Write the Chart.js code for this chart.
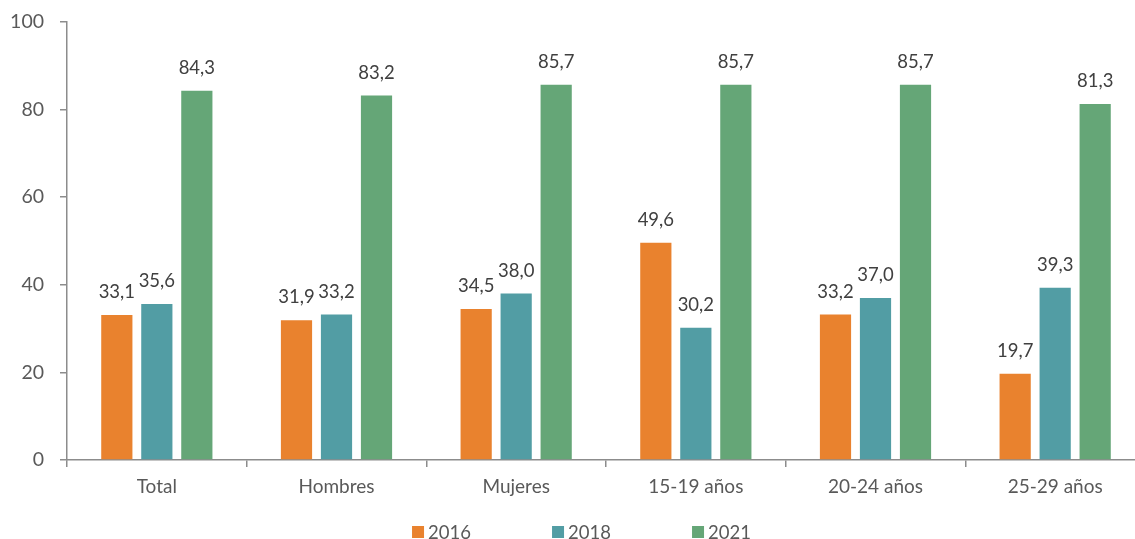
<!DOCTYPE html>
<html>
<head>
<meta charset="utf-8">
<script src="https://cdn.jsdelivr.net/npm/chart.js@4/dist/chart.umd.min.js"></script>
<style>
  html, body { margin: 0; padding: 0; background: #fff; overflow: hidden; }
  #wrap { position: relative; width: 1145px; height: 539px; }
</style>
</head>
<body>
<div id="wrap"><canvas id="c"></canvas></div>
<script>
const categories = ['Total', 'Hombres', 'Mujeres', '15-19 años', '20-24 años', '25-29 años'];
const seriesNames = ['2016', '2018', '2021'];
const values2016 = [33.1, 31.9, 34.5, 49.6, 33.2, 19.7];
const values2018 = [35.6, 33.2, 38.0, 30.2, 37.0, 39.3];
const values2021 = [84.3, 83.2, 85.7, 85.7, 85.7, 81.3];
const yTicks = [0, 20, 40, 60, 80, 100];

const colors = ['#E9822E', '#529DA4', '#65A677'];
const FONT = 'Lato, "Open Sans", sans-serif';

const valueLabels = {
  id: 'valueLabels',
  afterDatasetsDraw(chart) {
    const ctx = chart.ctx;
    ctx.save();
    ctx.font = '18.5px ' + FONT;
    ctx.fillStyle = '#404040';
    ctx.textAlign = 'center';
    ctx.textBaseline = 'alphabetic';
    chart.data.datasets.forEach((ds, i) => {
      chart.getDatasetMeta(i).data.forEach((bar, j) => {
        const txt = ds.data[j].toFixed(1).replace('.', ',');
        ctx.fillText(txt, bar.x, bar.y - 17);
      });
    });
    ctx.restore();
  }
};

const customLegend = {
  id: 'customLegend',
  afterDraw(chart) {
    const ctx = chart.ctx;
    ctx.save();
    ctx.font = '18.5px ' + FONT;
    ctx.textBaseline = 'middle';
    ctx.textAlign = 'left';
    const box = 12, gapText = 4, spacing = 140;
    const items = chart.data.datasets;
    const lastW = ctx.measureText(items[items.length - 1].label).width;
    const total = spacing * (items.length - 1) + box + gapText + lastW;
    const center = 581.5;
    let x = center - total / 2;
    const y = 532;
    items.forEach((ds) => {
      ctx.fillStyle = ds.backgroundColor;
      ctx.fillRect(x, y - box / 2, box, box);
      ctx.fillStyle = '#595959';
      ctx.fillText(ds.label, x + box + gapText, y + 1);
      x += spacing;
    });
    ctx.restore();
  }
};

new Chart(document.getElementById('c'), {
  type: 'bar',
  data: {
    labels: categories,
    datasets: [
      { label: seriesNames[0], data: values2016, backgroundColor: colors[0] },
      { label: seriesNames[1], data: values2018, backgroundColor: colors[1] },
      { label: seriesNames[2], data: values2021, backgroundColor: colors[2] }
    ]
  },
  options: {
    responsive: true,
    maintainAspectRatio: false,
    animation: false,
    devicePixelRatio: 1,
    categoryPercentage: 0.668,
    barPercentage: 0.78,
    layout: { padding: { left: 0, right: 0, top: 22, bottom: 29 } },
    plugins: {
      legend: { display: false },
      tooltip: { enabled: false }
    },
    scales: {
      x: {
        offset: true,
        border: { display: true, color: '#8C8C8C', width: 1.5 },
        grid: { display: true, drawOnChartArea: false, drawTicks: true, tickLength: 7, color: '#8C8C8C', lineWidth: 1.5, offset: true },
        ticks: { color: '#595959', font: { family: FONT, size: 19 }, padding: 8, maxRotation: 0 },
        afterFit(scale) { scale.height = 50; }
      },
      y: {
        min: 0,
        max: 100,
        afterBuildTicks(scale) { scale.ticks = yTicks.map(v => ({ value: v })); },
        border: { display: true, color: '#8C8C8C', width: 1.5 },
        grid: { display: true, drawOnChartArea: false, drawTicks: true, tickLength: 7, color: '#8C8C8C', lineWidth: 1.5 },
        ticks: { color: '#595959', font: { family: FONT, size: 19.5 }, padding: 16 },
        afterFit(scale) { scale.width = 67; scale.paddingTop = 0; scale.paddingBottom = 0; }
      }
    }
  },
  plugins: [valueLabels, customLegend]
});
</script>
</body>
</html>
